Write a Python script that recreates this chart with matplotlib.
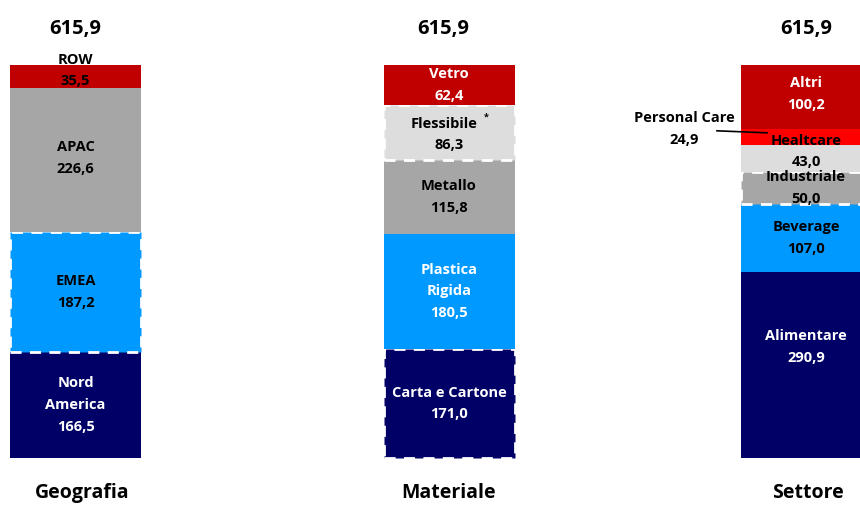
import matplotlib.pyplot as plt

plt.rcParams['font.family'] = ['Open Sans', 'DejaVu Sans']

# stacked values, bottom to top
groups = ['Geografia', 'Materiale', 'Settore']
totals = ['615,9', '615,9', '615,9']

geo_labels = ['Nord\nAmerica', 'EMEA', 'APAC', 'ROW']
geo_values = [166.5, 187.2, 226.6, 35.5]

mat_labels = ['Carta e Cartone', 'Plastica\nRigida', 'Metallo', 'Flessibile', 'Vetro']
mat_values = [171.0, 180.5, 115.8, 86.3, 62.4]

set_labels = ['Alimentare', 'Beverage', 'Industriale', 'Healtcare', 'Personal Care', 'Altri']
set_values = [290.9, 107.0, 50.0, 43.0, 24.9, 100.2]

NAVY = '#000066'
BLUE = '#0099FF'
GRAY = '#A6A6A6'
LGRAY = '#DDDDDD'
DRED = '#C00000'
RED = '#FF0000'

geo_style = [(NAVY, 'white', False), (BLUE, 'black', True), (GRAY, 'black', False), (DRED, 'black', False)]
mat_style = [(NAVY, 'white', True), (BLUE, 'white', False), (GRAY, 'black', False),
             (LGRAY, 'black', True), (DRED, 'white', False)]
set_style = [(NAVY, 'white', False), (BLUE, 'black', False), (GRAY, 'black', True),
             (LGRAY, 'black', False), (RED, 'black', False), (DRED, 'white', False)]

# label nudges in pixels (positive = up)
nudge = {'Alimentare': 18, 'Healtcare': 7, 'ROW': 6, 'Altri': 3, 'APAC': 2, 'Flessibile': -2}

FS = 10.5
LS = 1.7

fig = plt.figure(figsize=(8.6, 5.05), dpi=100)
ax = fig.add_axes([0, 0, 1, 1])
k = 393 / 615.9
ax.set_ylim(-(505 - 458) / k, 458 / k)
ax.set_xlim(0, 860)
ax.axis('off')

centers = [75.5, 449, 806]
width = 131


def seg_label(x, y, txt, color='black', **kw):
    ax.text(x, y, txt, ha='center', va='center', color=color, fontsize=FS,
            fontweight='bold', linespacing=LS, zorder=3, **kw)


def stack(xc, labels, values, styles, skip=()):
    bottom = 0
    for lab, v, (fc, tc, dashed) in zip(labels, values, styles):
        if dashed:
            ax.bar(xc, v, width, bottom=bottom, color=fc, edgecolor='white',
                   linewidth=2, linestyle=(0, (4, 3)), zorder=2)
        else:
            ax.bar(xc, v, width, bottom=bottom, color=fc, linewidth=0, zorder=2)
        if lab not in skip:
            y = bottom + v / 2 + nudge.get(lab, 0) / k
            seg_label(xc, y, f"{lab}\n{v:.1f}".replace('.', ','), tc)
        bottom += v
    return bottom


tops = []
tops.append(stack(centers[0], geo_labels, geo_values, geo_style))
tops.append(stack(centers[1], mat_labels, mat_values, mat_style, skip=('Flessibile',)))
tops.append(stack(centers[2], set_labels, set_values, set_style, skip=('Personal Care',)))

# Flessibile with asterisk
fl_mid = sum(mat_values[:3]) + mat_values[3] / 2 + nudge['Flessibile'] / k
half = 10.7 / k
seg_label(centers[1] - 5, fl_mid + half, 'Flessibile')
seg_label(centers[1], fl_mid - half, f"{mat_values[3]:.1f}".replace('.', ','))
ax.text(centers[1] + 37, fl_mid + half + 6 / k, '*', ha='center', va='center',
        fontsize=6.5, fontweight='bold', zorder=3)

# Personal Care callout, text to the left with a leader line into the slice
pc_mid = sum(set_values[:4]) + set_values[4] / 2
seg_label(684, pc_mid + 8 / k, f"Personal Care\n{set_values[4]:.1f}".replace('.', ','))
ax.plot([717, 767], [pc_mid + 6 / k, pc_mid + 4 / k], color='black', lw=1.2, zorder=4)

total_x = [75.5, 443.5, 806.5]
group_x = [82.5, 448.5, 807.5]
for tx, gx, t, top, g in zip(total_x, group_x, totals, tops, groups):
    ax.text(tx, top + 56, t, ha='center', va='center', fontsize=14.5, fontweight='bold')
    ax.text(gx, -55, g, ha='center', va='center', fontsize=14, fontweight='bold')

fig.savefig('out.png', dpi=100)
